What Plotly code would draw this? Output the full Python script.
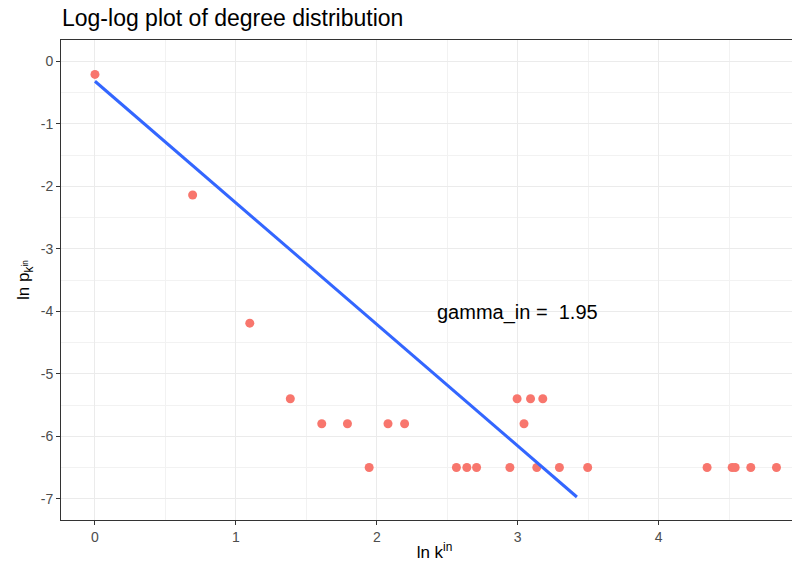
import numpy as np
import plotly.graph_objects as go

# degree values (k_in) and their counts; points are plotted as ln k vs ln p_k
k_in = [1, 2, 3, 4, 5, 6, 7, 8, 9, 13, 14, 15, 19, 20, 21, 22, 23, 24, 27, 33,
        77, 92, 94, 105, 126]
ln_pk = [-0.21, -2.14, -4.19, -5.40, -5.80, -5.80, -6.50, -5.80, -5.80, -6.50,
         -6.50, -6.50, -6.50, -5.40, -5.80, -5.40, -6.50, -5.40, -6.50, -6.50,
         -6.50, -6.50, -6.50, -6.50, -6.50]

# fitted line
fit_intercept = -0.32
fit_slope = -1.945
fit_x_range = [0.0, 3.42]
gamma_in = 1.95

x_ticks = [0, 1, 2, 3, 4, 5]
x_tick_labels = ["0", "1", "2", "3", "4", "5"]
y_ticks = [0, -1, -2, -3, -4, -5, -6, -7]
y_tick_labels = ["0", "-1", "-2", "-3", "-4", "-5", "-6", "-7"]

ln_k = np.log(np.array(k_in, dtype=float))
fit_x = np.array(fit_x_range)
fit_y = fit_intercept + fit_slope * fit_x

FONT = "Liberation Sans, Arial, Helvetica, sans-serif"

fig = go.Figure()
fig.add_trace(go.Scatter(
    x=ln_k, y=ln_pk, mode="markers",
    marker=dict(color="#F8766D", size=9, line=dict(width=0)),
    showlegend=False, cliponaxis=False,
))
fig.add_trace(go.Scatter(
    x=fit_x, y=fit_y, mode="lines",
    line=dict(color="#3366FF", width=3),
    showlegend=False,
))

fig.add_annotation(
    x=3.0, y=-4.02, xref="x", yref="y",
    text="gamma_in =  %.2f" % gamma_in, showarrow=False,
    font=dict(family=FONT, size=20, color="black"),
    xanchor="center", yanchor="middle",
)

axis_common = dict(
    showgrid=True, gridcolor="#EBEBEB", gridwidth=1.3,
    zeroline=False, showline=True, linecolor="#333333", linewidth=1, mirror=True,
    ticks="outside", ticklen=4, tickcolor="#333333", tickwidth=1,
    tickfont=dict(family=FONT, size=14, color="#4D4D4D"),
    automargin=False, ticklabeloverflow="allow",
)

fig.update_layout(
    width=800, height=572,
    paper_bgcolor="white", plot_bgcolor="white",
    margin=dict(l=53, r=0, t=32, b=60),
    title=dict(text="Log-log plot of degree distribution",
               font=dict(family=FONT, size=23, color="black"),
               x=54 / 800, xanchor="left", y=1 - 10 / 572, yanchor="middle",
               automargin=False),
    xaxis=dict(range=[-0.241, 5.06], tickvals=x_ticks, ticktext=x_tick_labels,
               title=dict(text="ln k<sup>in</sup>", standoff=2,
                          font=dict(family=FONT, size=17, color="black")),
               **axis_common),
    yaxis=dict(range=[-7.34, 0.34], tickvals=y_ticks, ticktext=y_tick_labels,
               title=dict(text="ln p<sub>k<sup>in</sup></sub>", standoff=6,
                          font=dict(family=FONT, size=17, color="black")),
               **axis_common),
)
fig.update_xaxes(minor=dict(tickvals=[-0.5, 0.5, 1.5, 2.5, 3.5, 4.5], ticks="",
                            showgrid=True, gridcolor="#F2F2F2", gridwidth=0.7))
fig.update_yaxes(minor=dict(tickvals=[0.5, -0.5, -1.5, -2.5, -3.5, -4.5, -5.5, -6.5], ticks="",
                            showgrid=True, gridcolor="#F2F2F2", gridwidth=0.7))

fig.write_html("out.html")
